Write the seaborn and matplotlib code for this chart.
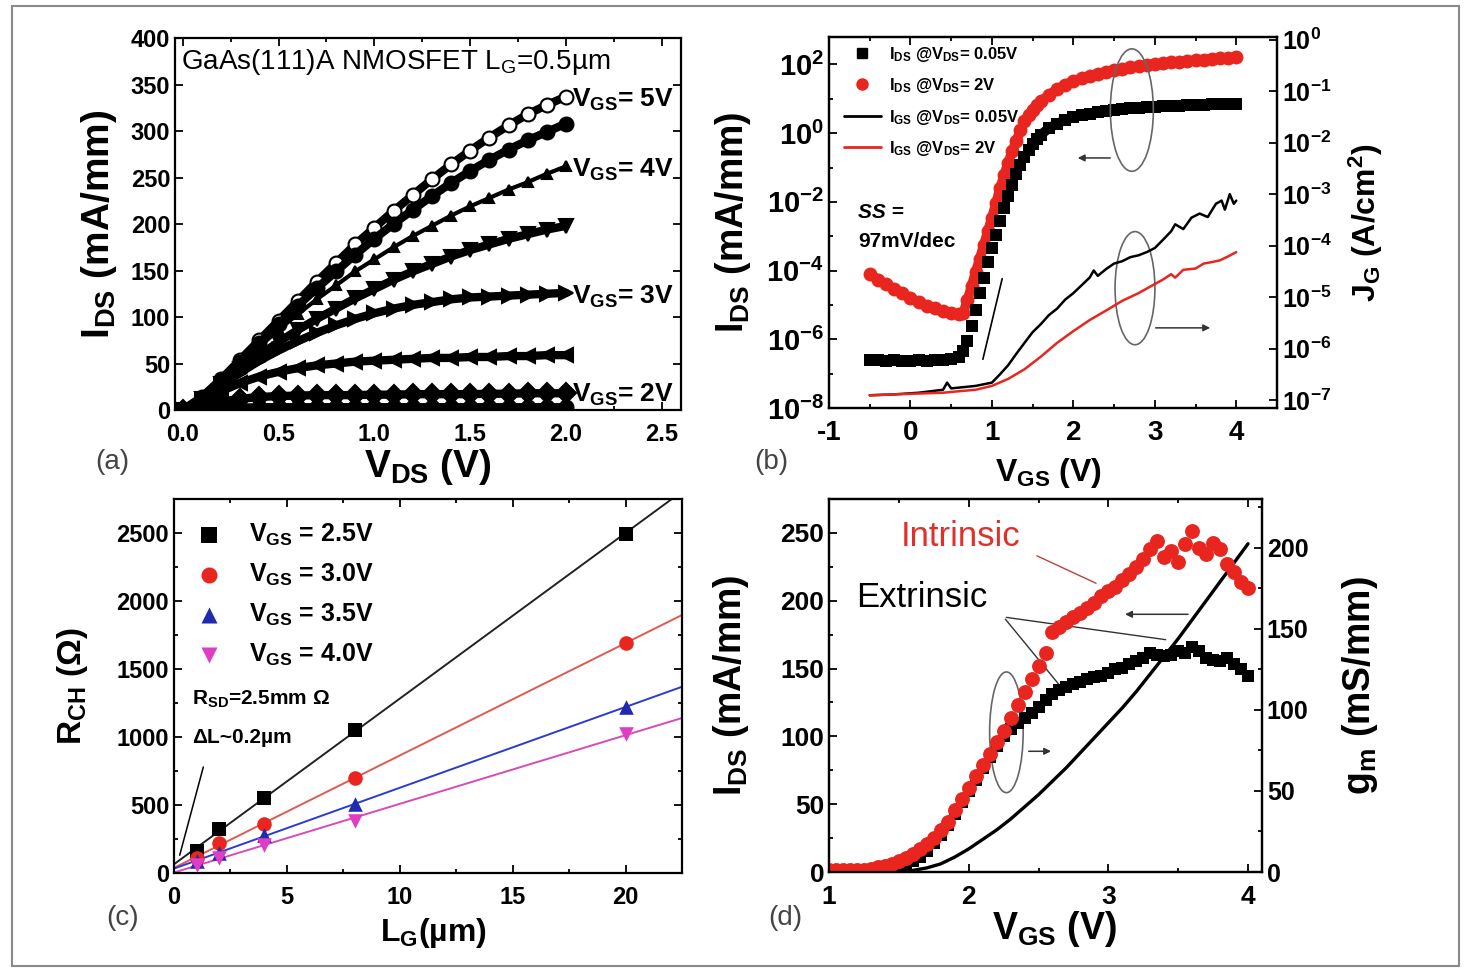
import numpy as np
import pandas as pd
import matplotlib
matplotlib.use('Agg')
import matplotlib.pyplot as plt
import seaborn as sns
from matplotlib.patches import Ellipse, Rectangle
from matplotlib.lines import Line2D
from matplotlib.ticker import MultipleLocator, FixedLocator, LogLocator, NullFormatter

# (a) output curves I_DS vs V_DS, one list per gate voltage
vds = [0.0, 0.1, 0.2, 0.3, 0.4, 0.5, 0.6, 0.7, 0.8, 0.9, 1.0,
       1.1, 1.2, 1.3, 1.4, 1.5, 1.6, 1.7, 1.8, 1.9, 2.0]
ids_5v = [0, 14, 33, 54, 75, 96, 117, 138, 158, 178, 196, 214, 231, 248, 264, 279, 293, 306, 318, 328, 337]
ids_45v = [0, 13, 32, 52, 72, 92, 112, 131, 149, 167, 184, 200, 215, 230, 244, 257, 269, 280, 290, 299, 308]
ids_4v = [0, 13, 31, 50, 68, 86, 103, 119, 134, 149, 162, 175, 187, 198, 209, 219, 228, 237, 245, 254, 262]
ids_35v = [0, 12, 28, 44, 59, 73, 86, 98, 109, 120, 130, 140, 149, 157, 165, 172, 178, 184, 189, 194, 198]
ids_3v = [0, 11, 26, 40, 53, 64, 74, 83, 91, 98, 104, 109, 113, 116, 119, 121, 122, 123, 124, 125, 126]
ids_25v = [0, 9, 20, 29, 36, 41, 45, 48, 50, 52, 53, 54, 55, 56, 56, 57, 57, 58, 58, 59, 59]
ids_2v = [0, 5, 9, 12, 14, 15, 15.5, 16, 16, 16, 16.5, 16.5, 17, 17, 17, 17, 17.5, 17.5, 18, 18, 18]
ids_15v = [0, 1, 2, 2.5, 3, 3, 3, 3, 3, 3, 3, 3, 3, 3, 3, 3, 3, 3, 3, 3, 3]
vgs_labels_a = [r'V$_{GS}$= 5V', r'V$_{GS}$= 4V', r'V$_{GS}$= 3V', r'V$_{GS}$= 2V']
vgs_label_y = [333, 258, 122, 16]

# (b) transfer curves (left, mA/mm) and gate leakage (right, A/cm2)
vgs_b = [-0.5, -0.4, -0.3, -0.2, -0.1, 0.0, 0.1, 0.2, 0.3, 0.4, 0.5, 0.6,
         0.65, 0.7, 0.75, 0.8, 0.85, 0.9, 0.95, 1.0, 1.05, 1.1, 1.15, 1.2, 1.25, 1.3,
         1.35, 1.4, 1.45, 1.5, 1.55, 1.6,
         1.7, 1.8, 1.9, 2.0, 2.1, 2.2, 2.3, 2.4, 2.5, 2.6, 2.7, 2.8, 2.9, 3.0,
         3.1, 3.2, 3.3, 3.4, 3.5, 3.6, 3.7, 3.8, 3.9, 4.0]
ids_lin = [2.5e-7, 2.5e-7, 2.4e-7, 2.5e-7, 2.4e-7, 2.4e-7, 2.5e-7, 2.4e-7, 2.5e-7, 2.5e-7, 2.6e-7, 3.0e-7,
           4.5e-7, 9e-7, 2.5e-6, 7e-6, 2.2e-5, 6e-5, 1.8e-4, 4.5e-4, 1.1e-3, 2.8e-3, 6.5e-3, 1.5e-2, 3.2e-2, 6.5e-2,
           0.12, 0.2, 0.32, 0.5, 0.7, 0.9,
           1.4, 1.9, 2.4, 2.9, 3.3, 3.7, 4.1, 4.4, 4.7, 5.0, 5.3, 5.5, 5.7, 5.9,
           6.05, 6.2, 6.35, 6.5, 6.65, 6.8, 6.9, 7.0, 7.1, 7.2]
ids_sat = [8e-5, 5.5e-5, 4e-5, 3e-5, 2.2e-5, 1.6e-5, 1.2e-5, 9.5e-6, 8e-6, 6.8e-6, 6e-6, 5.5e-6,
           6e-6, 1.4e-5, 3.5e-5, 9e-5, 2.2e-4, 5.5e-4, 1.4e-3, 3.5e-3, 9e-3, 2.5e-2, 6e-2, 0.14, 0.3, 0.6,
           1.2, 2.2, 3.3, 4.8, 6.5, 8.5,
           13, 19, 26, 33, 40, 47, 54, 61, 68, 75, 82, 89, 96, 103,
           109, 115, 121, 127, 133, 139, 145, 150, 155, 160]
vgs_jg_lin = [-0.5, -0.2, 0.1, 0.4, 0.45, 0.5, 0.8, 1.0, 1.1, 1.2, 1.3, 1.4, 1.5, 1.6, 1.7, 1.8, 1.9, 2.0,
              2.1, 2.2, 2.25, 2.3, 2.4, 2.5, 2.6, 2.7, 2.8, 2.9, 3.0,
              3.1, 3.2, 3.25, 3.35, 3.45, 3.55, 3.65, 3.75, 3.82, 3.86, 3.92, 3.97, 4.0]
jg_lin = [1.25e-7, 1.3e-7, 1.4e-7, 1.6e-7, 2.2e-7, 1.7e-7, 1.9e-7, 2.2e-7, 3.2e-7, 4.8e-7, 8e-7, 1.3e-6,
          2.1e-6, 3e-6, 4.5e-6, 6e-6, 9e-6, 1.2e-5,
          1.7e-5, 2.4e-5, 3.3e-5, 2.6e-5, 3.5e-5, 4.5e-5, 5e-5, 6e-5, 6.5e-5, 7.5e-5, 9e-5,
          1.3e-4, 1.9e-4, 2.6e-4, 2.1e-4, 3.5e-4, 4.2e-4, 3.6e-4, 6.5e-4, 7.5e-4, 5e-4, 1.0e-3, 6.5e-4, 7.5e-4]
vgs_jg_sat = [-0.5, -0.2, 0.1, 0.4, 0.6, 0.8, 1.0, 1.2, 1.4, 1.6, 1.8, 2.0, 2.2, 2.4, 2.6, 2.8,
              3.0, 3.1, 3.2, 3.25, 3.35, 3.5, 3.6, 3.7, 3.8, 3.9, 4.0]
jg_sat = [1.25e-7, 1.3e-7, 1.35e-7, 1.4e-7, 1.5e-7, 1.6e-7, 1.9e-7, 2.6e-7, 4e-7, 7e-7, 1.3e-6, 2.2e-6,
          3.6e-6, 5.5e-6, 8.5e-6, 1.2e-5, 1.8e-5, 2.2e-5, 2.8e-5, 2.4e-5, 3.4e-5, 3.6e-5, 4.5e-5,
          4.8e-5, 5.2e-5, 6.2e-5, 7.5e-5]
legend_b = [r'I$_{DS}$ @V$_{DS}$= 0.05V', r'I$_{DS}$ @V$_{DS}$= 2V',
            r'I$_{GS}$ @V$_{DS}$= 0.05V', r'I$_{GS}$ @V$_{DS}$= 2V']

# (c) channel resistance vs gate length
lg = [1, 2, 4, 8, 20]
r_25 = [165, 320, 555, 1050, 2495]
r_30 = [110, 222, 357, 702, 1690]
r_35 = [86, 148, 283, 505, 1220]
r_40 = [62, 110, 209, 382, 1022]
legend_c = [r'V$_{GS}$ = 2.5V', r'V$_{GS}$ = 3.0V', r'V$_{GS}$ = 3.5V', r'V$_{GS}$ = 4.0V']

# (d) transfer curve (left) and transconductance (right)
vgs_line = [1.0, 1.1, 1.2, 1.3, 1.4, 1.5, 1.6, 1.7, 1.8, 1.9, 2.0, 2.1, 2.2, 2.3, 2.4, 2.5,
            2.6, 2.7, 2.8, 2.9, 3.0, 3.1, 3.2, 3.3, 3.4, 3.5, 3.6, 3.7, 3.8, 3.9, 4.0]
ids_line = [0, 0, 0, 0, 0, 0.3, 1.2, 3, 6, 11, 17, 24, 31, 39, 48, 57,
            67, 77, 88, 99, 110, 121, 133, 146, 159, 172, 186, 200, 214, 228, 242]
vgs_d = [1.0, 1.05, 1.1, 1.15, 1.2, 1.25, 1.3, 1.35, 1.4, 1.45, 1.5, 1.55, 1.6, 1.65, 1.7, 1.75,
         1.8, 1.85, 1.9, 1.95, 2.0, 2.05, 2.1, 2.15, 2.2, 2.25, 2.3, 2.35, 2.4, 2.45, 2.5, 2.55,
         2.6, 2.65, 2.7, 2.75, 2.8, 2.85, 2.9, 2.95, 3.0, 3.05, 3.1, 3.15, 3.2, 3.25, 3.3, 3.35,
         3.4, 3.45, 3.5, 3.55, 3.6, 3.65, 3.7, 3.75, 3.8, 3.85, 3.9, 3.95, 4.0]
gm_ext = [0.5, 0.5, 0.5, 0.5, 0.5, 0.6, 0.8, 1.0, 1.5, 2.2, 3.2, 4.6, 6.5, 9, 13, 18,
          23, 29, 36, 43, 50, 57, 64, 71, 78, 84, 88, 92, 95, 98, 102, 106,
          110, 112, 114, 116, 117, 119, 120, 121, 123, 125, 126, 128, 130, 132, 135, 134,
          133, 134, 136, 135, 139, 136, 132, 131, 130, 132, 128, 125, 121]
gm_int = [1, 1, 1, 1, 1.2, 1.5, 2, 2.8, 3.8, 5, 6.5, 8.5, 11, 14, 17, 21,
          26, 31, 38, 45, 52, 59, 66, 73, 80, 87, 95, 103, 111, 119, 127, 135,
          148, 151, 154, 157, 160, 163, 166, 170, 173, 176, 180, 184, 188, 193, 199, 204,
          194, 198, 191, 202, 210, 200, 196, 203, 199, 190, 185, 179, 175]

RED = '#e8261f'
BLUE = '#1f2ab0'
MAG = '#e03cc4'

sns.set_style('ticks', {'axes.edgecolor': 'black', 'text.color': 'black',
                        'axes.labelcolor': 'black', 'xtick.color': 'black',
                        'ytick.color': 'black', 'xtick.direction': 'in',
                        'ytick.direction': 'in'})
plt.rcParams['font.family'] = ['Liberation Sans', 'DejaVu Sans']
plt.rcParams['font.weight'] = 'bold'
plt.rcParams['axes.labelweight'] = 'bold'
plt.rcParams['mathtext.default'] = 'regular'
plt.rcParams['axes.linewidth'] = 1.6
plt.rcParams['axes.unicode_minus'] = False

fig = plt.figure(figsize=(14.68, 9.72), dpi=100)
W, H = 1468, 972
ax_a = fig.add_axes([175 / W, 1 - 410 / H, 506 / W, 372 / H])
ax_b = fig.add_axes([829 / W, 1 - 408 / H, 448 / W, 371 / H])
ax_c = fig.add_axes([174 / W, 1 - 873 / H, 508 / W, 374 / H])
ax_d = fig.add_axes([829 / W, 1 - 872 / H, 433 / W, 373 / H])

fig.patches.append(Rectangle((0.008, 0.006), 0.986, 0.988, transform=fig.transFigure,
                             fill=False, ec='#8a8a8a', lw=1.5))


def style_ticks(ax, size, top=True, right=True):
    ax.tick_params(which='both', direction='in', top=top, right=right, labelsize=size, width=1.3)
    ax.tick_params(which='major', length=6)
    ax.tick_params(which='minor', length=3)
    ax.tick_params(axis='x', pad=9)


# ---------------- (a)
curves_a = [(ids_5v, 'o', 'white'), (ids_45v, 'o', 'k'), (ids_4v, '^', 'k'), (ids_35v, 'v', 'k'),
            (ids_3v, '>', 'k'), (ids_25v, '<', 'k'), (ids_2v, 'D', 'k'), (ids_15v, 'o', 'k')]
for yy, mk, fc in curves_a:
    thin = mk == '^'
    sns.lineplot(x=vds, y=yy, ax=ax_a, color='k', lw=3 if thin else 6, marker=mk,
                 ms=7 if thin else 10, mfc=fc, mec='k', mew=1.5, estimator=None, errorbar=None)
ax_a.set_xlim(-0.04, 2.6)
ax_a.set_ylim(0, 400)
ax_a.xaxis.set_major_locator(MultipleLocator(0.5))
ax_a.xaxis.set_minor_locator(MultipleLocator(0.25))
ax_a.yaxis.set_major_locator(MultipleLocator(50))
style_ticks(ax_a, 17)
ax_a.set_xlabel(r'V$_{DS}$ (V)', fontsize=28)
ax_a.set_ylabel(r'I$_{DS}$ (mA/mm)', fontsize=28)
ax_a.xaxis.set_label_coords(0.5, -0.10)
ax_a.yaxis.set_label_coords(-0.11, 0.5)
ax_a.text(0.012, 0.935, r'GaAs(111)A NMOSFET L$_G$=0.5µm', transform=ax_a.transAxes,
          fontsize=20, fontweight='normal', ha='left', va='center')
for lab, yv in zip(vgs_labels_a, vgs_label_y):
    ax_a.text(2.03, yv, lab, fontsize=19, ha='left', va='center')

# ---------------- (b)
ax_b.set_yscale('log')
ax_b2 = ax_b.twinx()
ax_b2.set_yscale('log')
# dense measured points merge into bands: flat and saturated parts drawn as thick lines too
sns.lineplot(x=vgs_b, y=ids_sat, ax=ax_b, color=RED, lw=7, estimator=None, errorbar=None, zorder=2)
sns.lineplot(x=vgs_b[:12], y=ids_lin[:12], ax=ax_b, color='k', lw=7, estimator=None, errorbar=None, zorder=3)
sns.lineplot(x=vgs_b[30:], y=ids_lin[30:], ax=ax_b, color='k', lw=7, estimator=None, errorbar=None, zorder=3)
sns.scatterplot(x=vgs_b, y=ids_lin, ax=ax_b, marker='s', color='k', s=75, linewidth=0, zorder=3)
sns.scatterplot(x=vgs_b, y=ids_sat, ax=ax_b, marker='o', color=RED, s=100, linewidth=0, zorder=2)
sns.lineplot(x=vgs_jg_lin, y=jg_lin, ax=ax_b2, color='k', lw=1.8, estimator=None, errorbar=None)
sns.lineplot(x=vgs_jg_sat, y=jg_sat, ax=ax_b2, color=RED, lw=1.8, estimator=None, errorbar=None)
ax_b.set_xlim(-1, 4.5)
ax_b.set_ylim(1e-8, 10 ** 2.8)
ax_b2.set_ylim(10 ** -7.15, 10 ** 0.05)
ax_b.xaxis.set_major_locator(MultipleLocator(1))
ax_b.xaxis.set_minor_locator(MultipleLocator(0.5))
ax_b.yaxis.set_major_locator(FixedLocator([1e-8, 1e-6, 1e-4, 1e-2, 1, 1e2]))
ax_b.yaxis.set_minor_locator(LogLocator(base=10, subs=(1.0,), numticks=30))
ax_b.yaxis.set_minor_formatter(NullFormatter())
ax_b2.yaxis.set_major_locator(LogLocator(base=10, numticks=30))
style_ticks(ax_b, 20, top=True, right=False)
ax_b.tick_params(axis='y', labelsize=21)
ax_b2.tick_params(which='both', direction='in', labelsize=18, width=1.3)
ax_b2.tick_params(which='major', length=6)
ax_b2.tick_params(which='minor', length=3)
ax_b.set_xlabel(r'V$_{GS}$ (V)', fontsize=23)
ax_b.set_ylabel(r'I$_{DS}$ (mA/mm)', fontsize=27)
ax_b2.set_ylabel(r'J$_G$ (A/cm$^2$)', fontsize=23)
ax_b.xaxis.set_label_coords(0.49, -0.13)
ax_b.yaxis.set_label_coords(-0.17, 0.5)
ax_b2.yaxis.set_label_coords(1.155, 0.5)
handles_b = [Line2D([], [], ls='', marker='s', color='k', ms=7),
             Line2D([], [], ls='', marker='o', color=RED, ms=8),
             Line2D([], [], color='k', lw=2),
             Line2D([], [], color=RED, lw=2)]
ax_b2.legend(handles_b, legend_b, loc='upper left', bbox_to_anchor=(0.0, 1.02), frameon=False,
             fontsize=12, handlelength=2.2, labelspacing=0.75, handletextpad=0.5)
ax_b2.add_patch(Ellipse((0.676, 0.803), 0.096, 0.33, transform=ax_b2.transAxes,
                        fill=False, ec='#666666', lw=1.2))
ax_b2.add_patch(Ellipse((0.683, 0.323), 0.089, 0.305, transform=ax_b2.transAxes,
                        fill=False, ec='#666666', lw=1.2))
ax_b2.annotate('', xy=(0.549, 0.674), xytext=(0.634, 0.674), xycoords='axes fraction',
               arrowprops=dict(arrowstyle='-|>', color='#333333', lw=1.1, mutation_scale=10))
ax_b2.annotate('', xy=(0.857, 0.216), xytext=(0.723, 0.216), xycoords='axes fraction',
               arrowprops=dict(arrowstyle='-|>', color='#333333', lw=1.1, mutation_scale=10))
ax_b2.annotate('', xy=(0.388, 0.356), xytext=(0.342, 0.124), xycoords='axes fraction',
               arrowprops=dict(arrowstyle='-', color='k', lw=1.2))
ax_b2.text(0.065, 0.528, 'SS =', transform=ax_b2.transAxes, fontsize=15, style='italic',
           ha='left', va='center')
ax_b2.text(0.065, 0.448, '97mV/dec', transform=ax_b2.transAxes, fontsize=15,
           ha='left', va='center')

# ---------------- (c)
ax_c.set_xlim(0, 22.5)
series_c = [(r_25, 's', 'k', '#222222'), (r_30, 'o', RED, '#e05a50'),
            (r_35, '^', BLUE, '#2a3bd0'), (r_40, 'v', MAG, '#d94ab8')]
for (yy, mk, col, lcol), lab in zip(series_c, legend_c):
    sns.regplot(x=lg, y=yy, ax=ax_c, scatter=False, ci=None, truncate=False,
                line_kws={'color': lcol, 'lw': 1.4})
    sns.scatterplot(x=lg, y=yy, ax=ax_c, marker=mk, color=col, s=110, linewidth=0,
                    label=lab, zorder=3)
ax_c.set_xlim(0, 22.5)
ax_c.set_ylim(0, 2750)
ax_c.xaxis.set_major_locator(MultipleLocator(5))
ax_c.xaxis.set_minor_locator(MultipleLocator(2.5))
ax_c.yaxis.set_major_locator(MultipleLocator(500))
ax_c.yaxis.set_minor_locator(MultipleLocator(250))
style_ticks(ax_c, 17)
ax_c.set_xlabel(r'L$_G$(µm)', fontsize=23)
ax_c.set_ylabel(r'R$_{CH}$ (Ω)', fontsize=24)
ax_c.xaxis.set_label_coords(0.51, -0.115)
ax_c.yaxis.set_label_coords(-0.165, 0.5)
ax_c.legend(loc='upper left', bbox_to_anchor=(-0.025, 1.0), frameon=False, fontsize=18,
            handletextpad=0.6, labelspacing=0.55, borderaxespad=0.5, markerscale=1.1)
ax_c.text(0.8, 1276, r'R$_{SD}$=2.5mm Ω', fontsize=15, ha='left', va='center')
ax_c.text(0.8, 996, 'ΔL~0.2µm', fontsize=15, ha='left', va='center')
ax_c.annotate('', xy=(0.22, 111), xytext=(1.33, 799),
              arrowprops=dict(arrowstyle='-', color='k', lw=1.1))

# ---------------- (d)
ax_d2 = ax_d.twinx()
sns.lineplot(x=vgs_line, y=ids_line, ax=ax_d, color='k', lw=2.4, estimator=None, errorbar=None)
sns.scatterplot(x=vgs_d, y=gm_ext, ax=ax_d2, marker='s', color='k', s=85, linewidth=0)
sns.scatterplot(x=vgs_d, y=gm_int, ax=ax_d2, marker='o', color=RED, s=115, linewidth=0)
ax_d.set_xlim(1, 4.1)
ax_d.set_ylim(0, 275)
ax_d2.set_ylim(0, 230)
ax_d.xaxis.set_major_locator(MultipleLocator(1))
ax_d.xaxis.set_minor_locator(MultipleLocator(0.5))
ax_d.yaxis.set_major_locator(MultipleLocator(50))
ax_d.yaxis.set_minor_locator(MultipleLocator(25))
ax_d2.yaxis.set_major_locator(MultipleLocator(50))
ax_d2.yaxis.set_minor_locator(MultipleLocator(25))
style_ticks(ax_d, 19, top=True, right=False)
ax_d2.tick_params(which='both', direction='in', labelsize=18, width=1.3)
ax_d2.tick_params(which='major', length=6)
ax_d2.tick_params(which='minor', length=3)
ax_d.set_xlabel(r'V$_{GS}$ (V)', fontsize=27)
ax_d.set_ylabel(r'I$_{DS}$ (mA/mm)', fontsize=27)
ax_d2.set_ylabel(r'g$_m$ (mS/mm)', fontsize=27)
ax_d.xaxis.set_label_coords(0.52, -0.1)
ax_d.yaxis.set_label_coords(-0.18, 0.5)
ax_d2.yaxis.set_label_coords(1.18, 0.5)
ax_d2.text(1.945, 247 * 230 / 275, 'Intrinsic', color='#e0302a', fontsize=25,
           fontweight='normal', ha='center', va='center')
ax_d2.text(1.666, 202.5 * 230 / 275, 'Extrinsic', color='k', fontsize=25,
           fontweight='normal', ha='center', va='center')
ax_d.annotate('', xy=(2.93, 212), xytext=(2.47, 234),
              arrowprops=dict(arrowstyle='-', color='#c04040', lw=1))
ax_d.annotate('', xy=(3.43, 171), xytext=(2.25, 188),
              arrowprops=dict(arrowstyle='-', color='#333333', lw=1))
ax_d.annotate('', xy=(2.68, 134), xytext=(2.25, 188),
              arrowprops=dict(arrowstyle='-', color='#333333', lw=1))
ax_d.annotate('', xy=(3.1, 190), xytext=(3.59, 190),
              arrowprops=dict(arrowstyle='-|>', color='#333333', lw=1.1, mutation_scale=10))
ax_d.annotate('', xy=(2.61, 89), xytext=(2.41, 89),
              arrowprops=dict(arrowstyle='-|>', color='#333333', lw=1.1, mutation_scale=10))
ax_d.add_patch(Ellipse((2.27, 103), 0.24, 89, fill=False, ec='#666666', lw=1.2))

# panel letters
for txt, px, py in [('(a)', 112, 462), ('(b)', 771, 462), ('(c)', 123, 918), ('(d)', 785, 918)]:
    fig.text(px / W, 1 - py / H, txt, fontsize=20, fontweight='normal', color='#444444',
             ha='center', va='center')

fig.savefig('out.png', dpi=100)
